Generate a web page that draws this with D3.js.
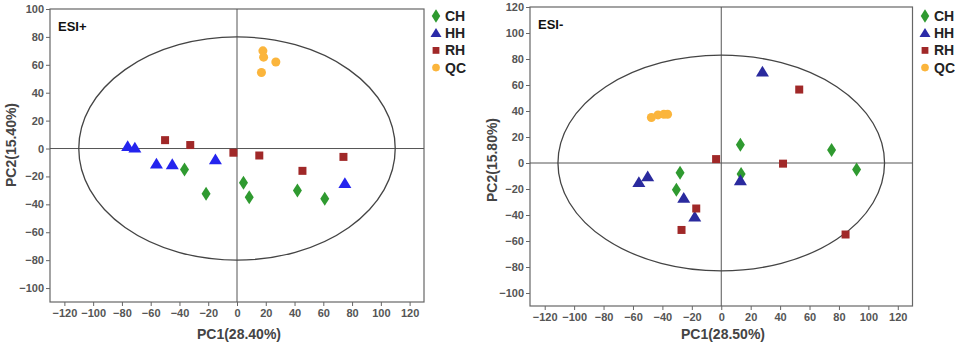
<!DOCTYPE html>
<html><head><meta charset="utf-8">
<script src="https://cdn.jsdelivr.net/npm/d3@7"></script>
<style>body{margin:0;background:#fff}svg{display:block}</style>
</head><body>
<svg id="c" width="955" height="346"></svg>
<script>
// ---------- DATA ----------
const groups = ["CH", "HH", "RH", "QC"];
const xTicks = [-120,-100,-80,-60,-40,-20,0,20,40,60,80,100,120];
const yTicksPos = [-100,-80,-60,-40,-20,0,20,40,60,80,100];
const yTicksNeg = [-100,-80,-60,-40,-20,0,20,40,60,80,100,120];

// ESI+ panel
const posCH = [[-36.5,-15],[-21.5,-32.5],[4.5,-24.5],[8.5,-35],[42,-30],[61,-36]];
const posHH = [[-76,1.5],[-71,0.5],[-56,-11],[-45,-11.5],[-15,-8],[75,-25]];
const posRH = [[-50,6],[-32.5,2.5],[-2.5,-3],[15.5,-5],[45.5,-16],[74,-6]];
const posQC = [[18,70],[18.5,65.5],[27,62],[17,54.5]];

// ESI- panel
const negCH = [[13,14],[75,10],[92,-5],[13.5,-8.5],[-28,-7.5],[-30.5,-20.5]];
const negHH = [[28,70],[-56,-15],[-50,-10.5],[-25.5,-27],[-18,-41.5],[13,-13.5]];
const negRH = [[53,56.5],[-3.5,3],[42,-0.5],[-17,-35],[-27,-51.5],[84.5,-55]];
const negQC = [[-47.5,35],[-43,37],[-39,37.5],[-36.5,37.5]];

// ---------- DRAW ----------
const svg = d3.select("#c");
const font = "'Liberation Sans', Arial, sans-serif";

const shapes = {
  CH: "M0,-7L4.5,0L0,7L-4.5,0Z",
  HH: "M0,-6.2L6.5,4.6L-6.5,4.6Z",
  RH: "M-4,-4L4,-4L4,4L-4,4Z",
  QC: d3.symbol(d3.symbolCircle, 64)()
};

function panel(cfg) {
  const g = svg.append("g");
  const x = d3.scaleLinear().domain([-130,130]).range([cfg.x0, cfg.x1]);
  const y = d3.scaleLinear().domain(cfg.yDomain).range([cfg.y1, cfg.y0]);

  // frame
  g.append("rect").attr("x", cfg.x0).attr("y", cfg.y0)
    .attr("width", cfg.x1 - cfg.x0).attr("height", cfg.y1 - cfg.y0)
    .attr("fill", "none").attr("stroke", "#666").attr("stroke-width", 1.2);

  // zero lines
  g.append("line").attr("x1", x(0)).attr("x2", x(0)).attr("y1", cfg.y0).attr("y2", cfg.y1)
    .attr("stroke", "#555").attr("stroke-width", 1);
  g.append("line").attr("x1", cfg.x0).attr("x2", cfg.x1).attr("y1", y(0)).attr("y2", y(0))
    .attr("stroke", "#555").attr("stroke-width", 1);

  // ellipse
  g.append("ellipse").attr("cx", x(0)).attr("cy", y(0))
    .attr("rx", x(cfg.rx) - x(0)).attr("ry", y(0) - y(cfg.ry))
    .attr("fill", "none").attr("stroke", "#444").attr("stroke-width", 1.3);

  // axes
  const xa = g.append("g").attr("transform", `translate(0,${cfg.y1})`)
    .call(d3.axisBottom(x).tickValues(xTicks).tickSize(4).tickPadding(3));
  const ya = g.append("g").attr("transform", `translate(${cfg.x0},0)`)
    .call(d3.axisLeft(y).tickValues(cfg.yTicks).tickSize(4).tickPadding(2));
  [xa, ya].forEach(a => {
    a.select(".domain").remove();
    a.selectAll("line").attr("stroke", "#666");
    a.selectAll("text").attr("fill", "#555").attr("font-family", font)
      .attr("font-size", 11).attr("font-weight", "bold");
  });

  // points
  const sets = [["CH", cfg.CH], ["HH", cfg.HH], ["RH", cfg.RH], ["QC", cfg.QC]];
  sets.forEach(([k, arr]) => {
    g.selectAll(null).data(arr).enter().append("path")
      .attr("d", shapes[k])
      .attr("transform", d => `translate(${x(d[0])},${y(d[1])})`)
      .attr("fill", cfg.colors[k]);
  });

  // panel label
  g.append("text").attr("x", cfg.x0 + 8).attr("y", cfg.y0 + 22)
    .text(cfg.label).attr("font-family", font).attr("font-size", 13)
    .attr("font-weight", "bold").attr("fill", "#111");

  // axis titles
  g.append("text").attr("x", cfg.xTitleX).attr("y", 339).attr("text-anchor", "middle")
    .text(cfg.xTitle).attr("font-family", font).attr("font-size", 14)
    .attr("font-weight", "bold").attr("fill", "#444");
  g.append("text").attr("transform", `translate(${cfg.yTitleX},${cfg.yTitleY}) rotate(-90)`)
    .attr("text-anchor", "middle")
    .text(cfg.yTitle).attr("font-family", font).attr("font-size", 14)
    .attr("font-weight", "bold").attr("fill", "#444");

  // legend
  groups.forEach((k, i) => {
    const ly = 16 + i * 17.2;
    g.append("path").attr("d", shapes[k])
      .attr("transform", `translate(${cfg.legX},${ly}) scale(${k === "CH" ? 0.95 : 0.85})`)
      .attr("fill", cfg.legColors[k]);
    g.append("text").attr("x", cfg.legX + 9).attr("y", ly + 5)
      .text(k).attr("font-family", font).attr("font-size", 14)
      .attr("font-weight", "bold").attr("fill", "#222");
  });
}

panel({
  x0: 50, x1: 424, y0: 9, y1: 302, yDomain: [-110, 100], yTicks: yTicksPos,
  rx: 110, ry: 80, label: "ESI+",
  CH: posCH, HH: posHH, RH: posRH, QC: posQC,
  colors: {CH: "#2f9a30", HH: "#2424ee", RH: "#a02828", QC: "#fbb53c"},
  legColors: {CH: "#2f9a30", HH: "#2a2aa8", RH: "#a02828", QC: "#fbb53c"},
  xTitle: "PC1(28.40%)", xTitleX: 239, yTitle: "PC2(15.40%)", yTitleX: 16, yTitleY: 145,
  legX: 436
});

panel({
  x0: 530, x1: 912.5, y0: 7, y1: 306, yDomain: [-110, 120], yTicks: yTicksNeg,
  rx: 111, ry: 83, label: "ESI-",
  CH: negCH, HH: negHH, RH: negRH, QC: negQC,
  colors: {CH: "#2f9a30", HH: "#2a2a9e", RH: "#a02828", QC: "#fbb53c"},
  legColors: {CH: "#2f9a30", HH: "#2a2aa8", RH: "#a02828", QC: "#fbb53c"},
  xTitle: "PC1(28.50%)", xTitleX: 723, yTitle: "PC2(15.80%)", yTitleX: 497, yTitleY: 160,
  legX: 925
});
</script>
</body></html>
